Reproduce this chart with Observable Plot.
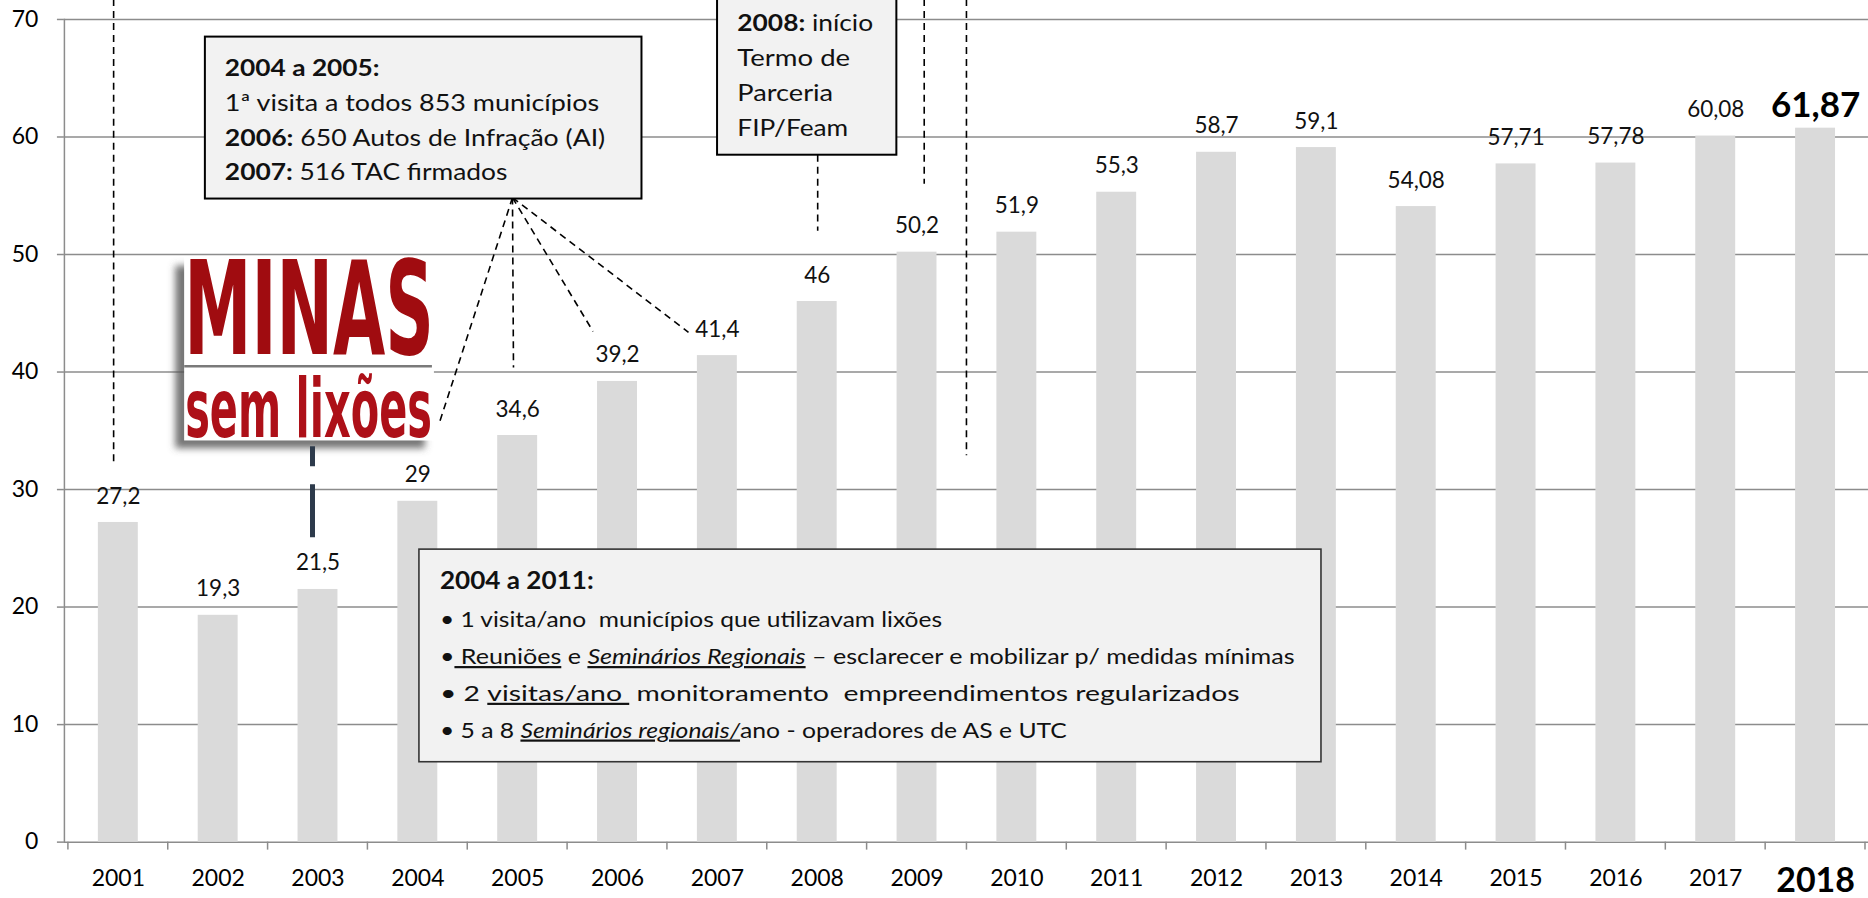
<!DOCTYPE html>
<html><head><meta charset="utf-8">
<script src="https://cdn.jsdelivr.net/npm/d3@7"></script>
<script src="https://cdn.jsdelivr.net/npm/@observablehq/plot@0.6"></script>
<style>html,body{margin:0;padding:0;background:#fff;overflow:hidden}</style>
</head><body><div id="chart"></div>
<script>
// ---- data ----
const years = ["2001","2002","2003","2004","2005","2006","2007","2008","2009","2010","2011","2012","2013","2014","2015","2016","2017","2018"];
const barValues = [27.2,19.3,21.5,29,34.6,39.2,41.4,46,50.2,51.9,55.3,58.7,59.1,54.08,57.71,57.78,60.08,60.75];
const valueLabels = ["27,2","19,3","21,5","29","34,6","39,2","41,4","46","50,2","51,9","55,3","58,7","59,1","54,08","57,71","57,78","60,08","61,87"];
const yTicks = [0,10,20,30,40,50,60,70];
const highlightYear = "2018";

// ---- annotation texts ----
const boxAText = [
  [["2004 a 2005:","b"]],
  ["1ª visita a todos 853 municípios"],
  [["2006:","b"]," 650 Autos de Infração (AI)"],
  [["2007:","b"]," 516 TAC firmados"]
];
const boxBText = [
  [["2008:","b"]," início"],
  ["Termo de"],
  ["Parceria"],
  ["FIP/Feam"]
];
const boxCTitle = [["2004 a 2011:","b"]];
const boxCText = [
  ["• 1 visita/ano  municípios que utilizavam lixões"],
  ["•",[" Reuniões","u"]," e ",["Seminários Regionais","iu"]," – esclarecer e mobilizar p/ medidas mínimas"],
  ["• 2 ",["visitas/ano ","u"]," monitoramento  empreendimentos regularizados"],
  ["• 5 a 8 ",["Seminários regionais/","iu"],"ano - operadores de AS e UTC"]
];

const data = years.map((year, i) => ({year, value: barValues[i], label: valueLabels[i]}));
const gridColor = "#8c8c8c";

const chart = Plot.plot({
  width: 1871, height: 898,
  marginLeft: 64, marginRight: 0, marginTop: 19, marginBottom: 55,
  style: {fontFamily: "Lato, sans-serif", fontSize: "23px", color: "#000", background: "#fff"},
  x: {domain: years, paddingInner: 0.6, paddingOuter: 0.3, label: null},
  y: {domain: [0, 70], label: null},
  marks: [
    Plot.ruleY(yTicks, {stroke: gridColor, strokeWidth: 1.5}),
    Plot.barY(data, {x: "year", y: "value", fill: "#dadada"}),
    Plot.frame({anchor: "left", stroke: gridColor, strokeWidth: 1.5}),
    Plot.axisY({ticks: yTicks, tickSize: 7, tickPadding: 19, stroke: gridColor, strokeWidth: 1.5, fontSize: 23, label: null}),
    Plot.axisX({tickSize: 0, tickPadding: 28, fontSize: 23, label: null, tickFormat: d => d === highlightYear ? "" : d}),
    Plot.text(data.filter(d => d.year !== highlightYear), {x: "year", y: "value", text: "label", lineAnchor: "bottom", dy: -19, fontSize: 22.5, fill: "#111"}),
    Plot.text(data.filter(d => d.year === highlightYear), {x: "year", y: "value", text: "label", lineAnchor: "bottom", dy: -11, fontSize: 35, fontWeight: "bold", fill: "#000"}),
    Plot.text([highlightYear], {x: d => d, frameAnchor: "bottom", lineAnchor: "bottom", dy: 50, fontSize: 34, fontWeight: "bold", fill: "#000"})
  ]
});
document.getElementById("chart").appendChild(chart);

// ---- annotations, anchored in data coordinates ----
const X = chart.scale("x"), Y = chart.scale("y");
const x0 = X.apply(years[0]) + X.bandwidth / 2;
const xu = u => x0 + (u - 2001) * X.step;   // continuous year position
const yv = v => Y.apply(v);
const svg = d3.select(chart);
const g = svg.append("g").attr("text-anchor", "start");

// category boundary ticks on x axis
for (let i = 0; i <= years.length; i++) {
  const xx = xu(2000.5 + i);
  g.append("line").attr("x1", xx).attr("x2", xx).attr("y1", yv(0)).attr("y2", yv(0) + 8)
    .attr("stroke", gridColor).attr("stroke-width", 1.5);
}

// dashed vertical guides
const vLines = [
  {u: 2000.958, v1: 71.7, v2: 32.11},
  {u: 2009.5, v1: 71.7, v2: 32.88},
  {u: 2009.077, v1: 71.7, v2: 55.98},
  {u: 2008.01, v1: 58.45, v2: 51.98}
];
vLines.forEach(l => g.append("line").attr("x1", xu(l.u)).attr("x2", xu(l.u)).attr("y1", yv(l.v1)).attr("y2", yv(l.v2))
  .attr("stroke", "#000").attr("stroke-width", 1.6).attr("stroke-dasharray", "7,5"));

// leader lines from box A
const leaderOrigin = {u: 2004.953, v: 54.8};
const leaderEnds = [{u: 2004.216, v: 35.51}, {u: 2004.963, v: 40.35}, {u: 2005.76, v: 43.41}, {u: 2006.716, v: 43.33}];
leaderEnds.forEach(e => g.append("line").attr("x1", xu(leaderOrigin.u)).attr("y1", yv(leaderOrigin.v))
  .attr("x2", xu(e.u)).attr("y2", yv(e.v)).attr("stroke", "#000").attr("stroke-width", 1.6).attr("stroke-dasharray", "7,5"));

function drawBox(b) {
  g.append("rect").attr("x", xu(b.u1)).attr("y", yv(b.v1)).attr("width", xu(b.u2) - xu(b.u1)).attr("height", yv(b.v2) - yv(b.v1))
    .attr("fill", "#f2f2f2").attr("stroke", b.stroke || "#000").attr("stroke-width", b.sw || 2);
}
function drawLines(x, y0, spacing, rows, fontSize, widths) {
  rows.forEach((parts, i) => {
    const t = g.append("text").attr("x", x).attr("y", y0 + i * spacing).attr("font-size", fontSize)
      .attr("text-anchor", "start")
      .attr("font-family", "Lato, sans-serif").attr("fill", "#111").style("white-space", "pre");
    if (widths && widths[i]) t.attr("textLength", widths[i]).attr("lengthAdjust", "spacingAndGlyphs");
    parts.forEach(p => {
      const [s, f] = typeof p === "string" ? [p, ""] : p;
      const ts = t.append("tspan").text(s);
      if (f.includes("b")) ts.attr("font-weight", "bold");
      if (f.includes("i")) ts.attr("font-style", "italic");
      if (f.includes("u")) ts.attr("text-decoration", "underline");
    });
  });
}

// Box A
const boxA = {u1: 2001.872, u2: 2006.245, v1: 68.5, v2: 54.72};
drawBox(boxA);
drawLines(xu(boxA.u1) + 20, yv(boxA.v1) + 39.3, 34.9, boxAText, 23, [155, 375, 381, 283]);

// Box B
const boxB = {u1: 2007.002, u2: 2008.798, v1: 72.6, v2: 58.45};
drawBox(boxB);
drawLines(xu(boxB.u1) + 20.3, yv(boxB.v2) - 124.2, 35.3, boxBText, 23, [136, 113, 96, 111]);

// Box C
const boxC = {u1: 2004.016, u2: 2013.051, v1: 24.89, v2: 6.8};
drawBox({...boxC, stroke: "#333", sw: 1.6});
drawLines(xu(boxC.u1) + 21, yv(boxC.v1) + 40, 0, [boxCTitle], 25, [154]);
drawLines(xu(boxC.u1) + 21, yv(boxC.v1) + 78.3, 36.8, boxCText, 22, [503, 856, 801, 628]);

// Logo "MINAS sem lixões"
const defs = svg.append("defs");
const f = defs.append("filter").attr("id", "logoShadow").attr("x", "-20%").attr("y", "-20%").attr("width", "140%").attr("height", "140%");
f.append("feDropShadow").attr("dx", -9).attr("dy", 8).attr("stdDeviation", 3.5).attr("flood-color", "#555").attr("flood-opacity", 0.8);
const blur = defs.append("filter").attr("id", "softBlur");
blur.append("feGaussianBlur").attr("stdDeviation", 2);

const logo = {u1: 2001.665, u2: 2004.166, v1: 49.7, v2: 34.15};
const lx = xu(logo.u1), lw = xu(logo.u2) - xu(logo.u1), ly = yv(logo.v1), lh = yv(logo.v2) - yv(logo.v1);
g.append("rect").attr("x", lx).attr("y", ly).attr("width", lw).attr("height", lh).attr("fill", "#fff").attr("filter", "url(#logoShadow)");
g.append("text").attr("x", lx).attr("y", ly + 97).attr("text-anchor", "start").attr("font-family", "'DejaVu Sans Condensed', 'DejaVu Sans', sans-serif")
  .attr("font-weight", "bold").attr("font-size", 130).attr("fill", "#a00c10")
  .attr("textLength", lw).attr("lengthAdjust", "spacingAndGlyphs").text("MINAS");
g.append("line").attr("x1", lx).attr("x2", lx + lw - 2).attr("y1", ly + 109).attr("y2", ly + 109).attr("stroke", "#7a7a7a").attr("stroke-width", 2.5);
g.append("text").attr("x", lx + 1).attr("y", ly + 180).attr("text-anchor", "start").attr("font-family", "'Liberation Sans Narrow', 'DejaVu Sans Condensed', sans-serif")
  .attr("font-weight", "bold").attr("font-size", 82).attr("fill", "#ad1018")
  .attr("textLength", lw - 3).attr("lengthAdjust", "spacingAndGlyphs").text("sem lixões");

// dark dashed connector under logo
const conn = {u: 2002.95, v1: 33.64, v2: 25.91};
g.append("line").attr("x1", xu(conn.u) - 12).attr("x2", xu(conn.u) - 12).attr("y1", yv(conn.v1) + 10).attr("y2", yv(conn.v2) - 8)
  .attr("stroke", "#bdbdbd").attr("stroke-width", 5).attr("stroke-dasharray", "14,16").attr("filter", "url(#softBlur)");
g.append("line").attr("x1", xu(conn.u)).attr("x2", xu(conn.u)).attr("y1", yv(conn.v1)).attr("y2", yv(conn.v2))
  .attr("stroke", "#2d3a4b").attr("stroke-width", 5).attr("stroke-dasharray", "20,18,60");
</script>
</body></html>
